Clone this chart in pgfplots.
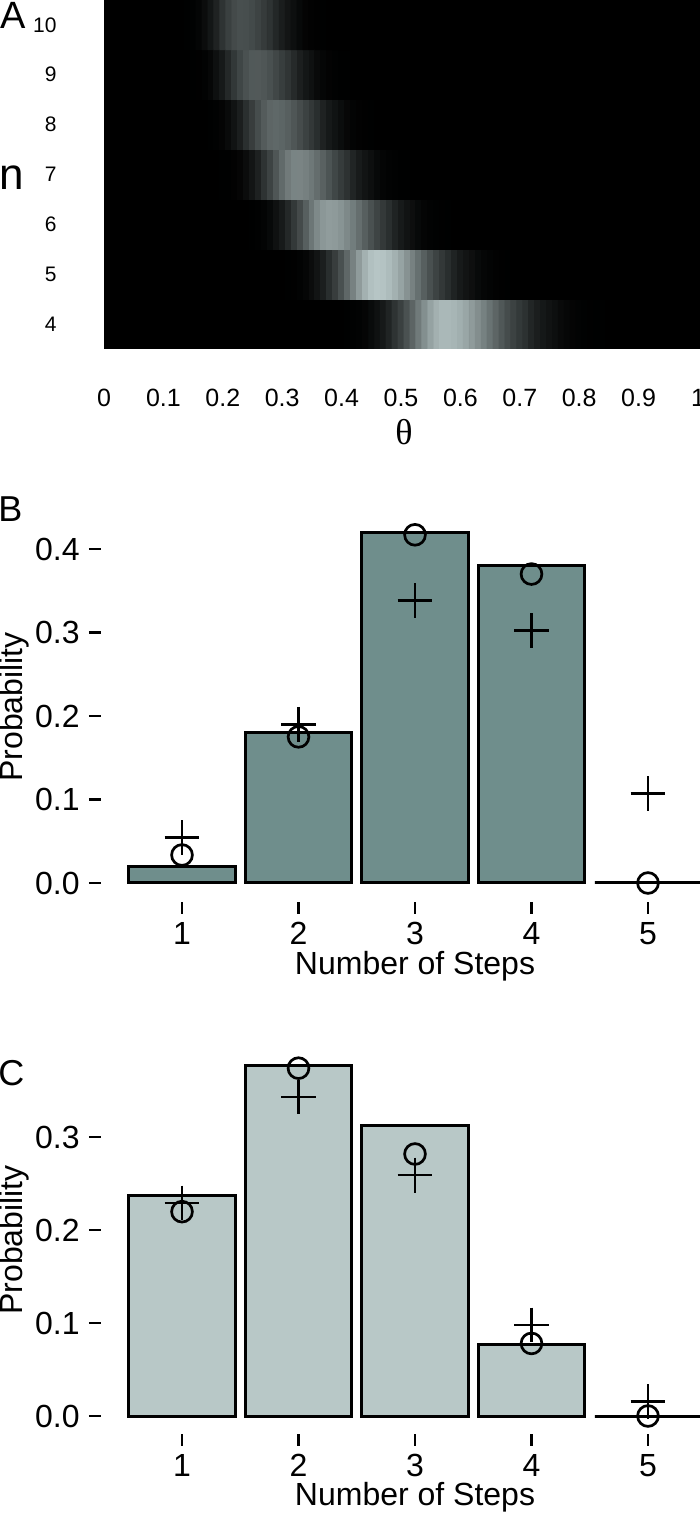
\documentclass[border=0pt]{standalone}
\usepackage{pgfplots}
\pgfplotsset{compat=1.18}
\usepackage{fontspec}
\setmainfont{Liberation Sans}
\newfontfamily\thetafont{Liberation Serif}

\definecolor{barB}{RGB}{111,142,140}
\definecolor{barC}{RGB}{184,200,199}

% 1 px of the reference = 0.5pt
\pgfplotsset{
  steps/.style={
    scale only axis, anchor=south west,
    width=299.5pt,
    xmin=0.3047, xmax=5.4464,
    axis lines*=left, axis line style={draw=none},
    tick align=outside, major tick length=6pt,
    tick style={line width=1.3pt, black},
    xtick={1,2,3,4,5},
    xticklabels={1,2,3,4,5},
    xticklabel style={font=\fontsize{16}{18}\selectfont, inner sep=0pt, anchor=north, yshift=-4pt},
    yticklabel style={font=\fontsize{16}{18}\selectfont, inner sep=0pt, anchor=east, xshift=-4.5pt},
  },
  barstyle/.style={ybar, bar width=0.91, bar shift=0pt, draw=black, line width=1.5pt},
  circ/.style={only marks, mark=o, mark size=5.2pt, line width=1.35pt, black},
  plus/.style={only marks, mark=+, mark size=8.7pt, line width=1.35pt, black},
}

\begin{document}
\begin{tikzpicture}
\useasboundingbox (0,0) rectangle (350pt,759.5pt);
\clip (0,0) rectangle (350pt,759.5pt);

% ---------------- A: heat map ----------------
\begin{axis}[
  at={(52pt,585pt)}, anchor=south west, scale only axis,
  width=298pt, height=174.5pt,
  xmin=0, xmax=1.0034, ymin=3.5, ymax=10.5,
  axis line style={draw=none},
  axis background/.style={fill=black},
  major tick length=0pt,
  xtick={0,0.1,0.2,0.3,0.4,0.5,0.6,0.7,0.8,0.9,1},
  xticklabels={0,0.1,0.2,0.3,0.4,0.5,0.6,0.7,0.8,0.9,1},
  ytick={4,5,6,7,8,9,10},
  yticklabels={4,5,6,7,8,9,10},
  xticklabel style={font=\fontsize{12.5}{14}\selectfont, anchor=center, inner sep=0pt, yshift=-24.5pt},
  yticklabel style={font=\fontsize{10.5}{12}\selectfont, anchor=east, inner sep=0pt, xshift=-23.5pt},
  colormap={heat}{rgb255(0cm)=(0,0,0); rgb255(0.3cm)=(14,16,16); rgb255(1.5cm)=(45,50,50); rgb255(10cm)=(182,197,197)},
  point meta min=0, point meta max=1,
]
\addplot[matrix plot*, point meta=explicit, mesh/cols=75] coordinates {
(0.12,4)[0] (0.13,4)[0] (0.14,4)[0] (0.15,4)[0] (0.16,4)[0] (0.17,4)[0] (0.18,4)[0] (0.19,4)[0] (0.20,4)[0] (0.21,4)[0] (0.22,4)[0] (0.23,4)[0] (0.24,4)[0] (0.25,4)[0] (0.26,4)[0] (0.27,4)[0] (0.28,4)[0] (0.29,4)[0] (0.30,4)[0] (0.31,4)[0] (0.32,4)[0] (0.33,4)[0] (0.34,4)[0] (0.35,4)[0] (0.36,4)[0] (0.37,4)[0] (0.38,4)[0] (0.39,4)[0] (0.40,4)[0]
(0.41,4)[0.001] (0.42,4)[0.003] (0.43,4)[0.005] (0.44,4)[0.010] (0.45,4)[0.020] (0.46,4)[0.035] (0.47,4)[0.061] (0.48,4)[0.100] (0.49,4)[0.156] (0.50,4)[0.232] (0.51,4)[0.329] (0.52,4)[0.442] (0.53,4)[0.564] (0.54,4)[0.686] (0.55,4)[0.795] (0.56,4)[0.880] (0.57,4)[0.924] (0.58,4)[0.927] (0.59,4)[0.909] (0.60,4)[0.872] (0.61,4)[0.820] (0.62,4)[0.756] (0.63,4)[0.683] (0.64,4)[0.604] (0.65,4)[0.524] (0.66,4)[0.445] (0.67,4)[0.370] (0.68,4)[0.302] (0.69,4)[0.241] (0.70,4)[0.189] (0.71,4)[0.145] (0.72,4)[0.109] (0.73,4)[0.080] (0.74,4)[0.058] (0.75,4)[0.041] (0.76,4)[0.028] (0.77,4)[0.019] (0.78,4)[0.013] (0.79,4)[0.008] (0.80,4)[0.005] (0.81,4)[0.003] (0.82,4)[0.002] (0.83,4)[0.001] (0.84,4)[0.001]
(0.85,4)[0] (0.86,4)[0]
(0.12,5)[0] (0.13,5)[0] (0.14,5)[0] (0.15,5)[0] (0.16,5)[0] (0.17,5)[0] (0.18,5)[0] (0.19,5)[0] (0.20,5)[0] (0.21,5)[0] (0.22,5)[0] (0.23,5)[0] (0.24,5)[0] (0.25,5)[0] (0.26,5)[0] (0.27,5)[0] (0.28,5)[0] (0.29,5)[0] (0.30,5)[0]
(0.31,5)[0.001] (0.32,5)[0.002] (0.33,5)[0.005] (0.34,5)[0.011] (0.35,5)[0.023] (0.36,5)[0.044] (0.37,5)[0.080] (0.38,5)[0.135] (0.39,5)[0.216] (0.40,5)[0.325] (0.41,5)[0.458] (0.42,5)[0.607] (0.43,5)[0.755] (0.44,5)[0.882] (0.45,5)[0.969] (0.46,5)[1.000] (0.47,5)[0.986] (0.48,5)[0.946] (0.49,5)[0.882] (0.50,5)[0.801] (0.51,5)[0.707] (0.52,5)[0.607] (0.53,5)[0.506] (0.54,5)[0.411] (0.55,5)[0.325] (0.56,5)[0.249] (0.57,5)[0.186] (0.58,5)[0.135] (0.59,5)[0.096] (0.60,5)[0.066] (0.61,5)[0.044] (0.62,5)[0.029] (0.63,5)[0.018] (0.64,5)[0.011] (0.65,5)[0.007] (0.66,5)[0.004] (0.67,5)[0.002] (0.68,5)[0.001]
(0.69,5)[0] (0.70,5)[0] (0.71,5)[0] (0.72,5)[0] (0.73,5)[0] (0.74,5)[0] (0.75,5)[0] (0.76,5)[0] (0.77,5)[0] (0.78,5)[0] (0.79,5)[0] (0.80,5)[0] (0.81,5)[0] (0.82,5)[0] (0.83,5)[0] (0.84,5)[0] (0.85,5)[0] (0.86,5)[0]
(0.12,6)[0] (0.13,6)[0] (0.14,6)[0] (0.15,6)[0] (0.16,6)[0] (0.17,6)[0] (0.18,6)[0] (0.19,6)[0] (0.20,6)[0] (0.21,6)[0] (0.22,6)[0] (0.23,6)[0] (0.24,6)[0]
(0.25,6)[0.001] (0.26,6)[0.003] (0.27,6)[0.007] (0.28,6)[0.016] (0.29,6)[0.034] (0.30,6)[0.065] (0.31,6)[0.116] (0.32,6)[0.190] (0.33,6)[0.291] (0.34,6)[0.413] (0.35,6)[0.542] (0.36,6)[0.654] (0.37,6)[0.736] (0.38,6)[0.765] (0.39,6)[0.752] (0.40,6)[0.715] (0.41,6)[0.655] (0.42,6)[0.581] (0.43,6)[0.498] (0.44,6)[0.413] (0.45,6)[0.330] (0.46,6)[0.256] (0.47,6)[0.191] (0.48,6)[0.138] (0.49,6)[0.096] (0.50,6)[0.065] (0.51,6)[0.042] (0.52,6)[0.027] (0.53,6)[0.016] (0.54,6)[0.009] (0.55,6)[0.005] (0.56,6)[0.003] (0.57,6)[0.002] (0.58,6)[0.001]
(0.59,6)[0] (0.60,6)[0] (0.61,6)[0] (0.62,6)[0] (0.63,6)[0] (0.64,6)[0] (0.65,6)[0] (0.66,6)[0] (0.67,6)[0] (0.68,6)[0] (0.69,6)[0] (0.70,6)[0] (0.71,6)[0] (0.72,6)[0] (0.73,6)[0] (0.74,6)[0] (0.75,6)[0] (0.76,6)[0] (0.77,6)[0] (0.78,6)[0] (0.79,6)[0] (0.80,6)[0] (0.81,6)[0] (0.82,6)[0] (0.83,6)[0] (0.84,6)[0] (0.85,6)[0] (0.86,6)[0]
(0.12,7)[0] (0.13,7)[0] (0.14,7)[0] (0.15,7)[0] (0.16,7)[0] (0.17,7)[0] (0.18,7)[0] (0.19,7)[0]
(0.20,7)[0.001] (0.21,7)[0.001] (0.22,7)[0.004] (0.23,7)[0.010] (0.24,7)[0.023] (0.25,7)[0.048] (0.26,7)[0.091] (0.27,7)[0.157] (0.28,7)[0.249] (0.29,7)[0.359] (0.30,7)[0.472] (0.31,7)[0.569] (0.32,7)[0.623] (0.33,7)[0.627] (0.34,7)[0.602] (0.35,7)[0.556] (0.36,7)[0.493] (0.37,7)[0.420] (0.38,7)[0.344] (0.39,7)[0.271] (0.40,7)[0.205] (0.41,7)[0.149] (0.42,7)[0.103] (0.43,7)[0.069] (0.44,7)[0.045] (0.45,7)[0.028] (0.46,7)[0.016] (0.47,7)[0.009] (0.48,7)[0.005] (0.49,7)[0.003] (0.50,7)[0.001] (0.51,7)[0.001]
(0.52,7)[0] (0.53,7)[0] (0.54,7)[0] (0.55,7)[0] (0.56,7)[0] (0.57,7)[0] (0.58,7)[0] (0.59,7)[0] (0.60,7)[0] (0.61,7)[0] (0.62,7)[0] (0.63,7)[0] (0.64,7)[0] (0.65,7)[0] (0.66,7)[0] (0.67,7)[0] (0.68,7)[0] (0.69,7)[0] (0.70,7)[0] (0.71,7)[0] (0.72,7)[0] (0.73,7)[0] (0.74,7)[0] (0.75,7)[0] (0.76,7)[0] (0.77,7)[0] (0.78,7)[0] (0.79,7)[0] (0.80,7)[0] (0.81,7)[0] (0.82,7)[0] (0.83,7)[0] (0.84,7)[0] (0.85,7)[0] (0.86,7)[0]
(0.12,8)[0] (0.13,8)[0] (0.14,8)[0] (0.15,8)[0] (0.16,8)[0] (0.17,8)[0]
(0.18,8)[0.001] (0.19,8)[0.003] (0.20,8)[0.008] (0.21,8)[0.019] (0.22,8)[0.042] (0.23,8)[0.080] (0.24,8)[0.138] (0.25,8)[0.216] (0.26,8)[0.307] (0.27,8)[0.389] (0.28,8)[0.445] (0.29,8)[0.460] (0.30,8)[0.444] (0.31,8)[0.410] (0.32,8)[0.361] (0.33,8)[0.303] (0.34,8)[0.243] (0.35,8)[0.185] (0.36,8)[0.135] (0.37,8)[0.094] (0.38,8)[0.062] (0.39,8)[0.039] (0.40,8)[0.024] (0.41,8)[0.014] (0.42,8)[0.007] (0.43,8)[0.004] (0.44,8)[0.002] (0.45,8)[0.001]
(0.46,8)[0] (0.47,8)[0] (0.48,8)[0] (0.49,8)[0] (0.50,8)[0] (0.51,8)[0] (0.52,8)[0] (0.53,8)[0] (0.54,8)[0] (0.55,8)[0] (0.56,8)[0] (0.57,8)[0] (0.58,8)[0] (0.59,8)[0] (0.60,8)[0] (0.61,8)[0] (0.62,8)[0] (0.63,8)[0] (0.64,8)[0] (0.65,8)[0] (0.66,8)[0] (0.67,8)[0] (0.68,8)[0] (0.69,8)[0] (0.70,8)[0] (0.71,8)[0] (0.72,8)[0] (0.73,8)[0] (0.74,8)[0] (0.75,8)[0] (0.76,8)[0] (0.77,8)[0] (0.78,8)[0] (0.79,8)[0] (0.80,8)[0] (0.81,8)[0] (0.82,8)[0] (0.83,8)[0] (0.84,8)[0] (0.85,8)[0] (0.86,8)[0]
(0.12,9)[0] (0.13,9)[0] (0.14,9)[0]
(0.15,9)[0.001] (0.16,9)[0.002] (0.17,9)[0.005] (0.18,9)[0.013] (0.19,9)[0.031] (0.20,9)[0.062] (0.21,9)[0.114] (0.22,9)[0.183] (0.23,9)[0.263] (0.24,9)[0.332] (0.25,9)[0.375] (0.26,9)[0.377] (0.27,9)[0.358] (0.28,9)[0.321] (0.29,9)[0.273] (0.30,9)[0.220] (0.31,9)[0.168] (0.32,9)[0.121] (0.33,9)[0.083] (0.34,9)[0.054] (0.35,9)[0.033] (0.36,9)[0.019] (0.37,9)[0.011] (0.38,9)[0.006] (0.39,9)[0.003] (0.40,9)[0.001] (0.41,9)[0.001]
(0.42,9)[0] (0.43,9)[0] (0.44,9)[0] (0.45,9)[0] (0.46,9)[0] (0.47,9)[0] (0.48,9)[0] (0.49,9)[0] (0.50,9)[0] (0.51,9)[0] (0.52,9)[0] (0.53,9)[0] (0.54,9)[0] (0.55,9)[0] (0.56,9)[0] (0.57,9)[0] (0.58,9)[0] (0.59,9)[0] (0.60,9)[0] (0.61,9)[0] (0.62,9)[0] (0.63,9)[0] (0.64,9)[0] (0.65,9)[0] (0.66,9)[0] (0.67,9)[0] (0.68,9)[0] (0.69,9)[0] (0.70,9)[0] (0.71,9)[0] (0.72,9)[0] (0.73,9)[0] (0.74,9)[0] (0.75,9)[0] (0.76,9)[0] (0.77,9)[0] (0.78,9)[0] (0.79,9)[0] (0.80,9)[0] (0.81,9)[0] (0.82,9)[0] (0.83,9)[0] (0.84,9)[0] (0.85,9)[0] (0.86,9)[0]
(0.12,10)[0] (0.13,10)[0]
(0.14,10)[0.001] (0.15,10)[0.003] (0.16,10)[0.009] (0.17,10)[0.023] (0.18,10)[0.050] (0.19,10)[0.095] (0.20,10)[0.158] (0.21,10)[0.230] (0.22,10)[0.290] (0.23,10)[0.319] (0.24,10)[0.314] (0.25,10)[0.289] (0.26,10)[0.251] (0.27,10)[0.204] (0.28,10)[0.156] (0.29,10)[0.112] (0.30,10)[0.076] (0.31,10)[0.048] (0.32,10)[0.028] (0.33,10)[0.016] (0.34,10)[0.008] (0.35,10)[0.004] (0.36,10)[0.002] (0.37,10)[0.001]
(0.38,10)[0] (0.39,10)[0] (0.40,10)[0] (0.41,10)[0] (0.42,10)[0] (0.43,10)[0] (0.44,10)[0] (0.45,10)[0] (0.46,10)[0] (0.47,10)[0] (0.48,10)[0] (0.49,10)[0] (0.50,10)[0] (0.51,10)[0] (0.52,10)[0] (0.53,10)[0] (0.54,10)[0] (0.55,10)[0] (0.56,10)[0] (0.57,10)[0] (0.58,10)[0] (0.59,10)[0] (0.60,10)[0] (0.61,10)[0] (0.62,10)[0] (0.63,10)[0] (0.64,10)[0] (0.65,10)[0] (0.66,10)[0] (0.67,10)[0] (0.68,10)[0] (0.69,10)[0] (0.70,10)[0] (0.71,10)[0] (0.72,10)[0] (0.73,10)[0] (0.74,10)[0] (0.75,10)[0] (0.76,10)[0] (0.77,10)[0] (0.78,10)[0] (0.79,10)[0] (0.80,10)[0] (0.81,10)[0] (0.82,10)[0] (0.83,10)[0] (0.84,10)[0] (0.85,10)[0] (0.86,10)[0]
};
\end{axis}
\node[font=\fontsize{19}{20}\selectfont, anchor=base west, inner sep=0pt] at (0pt,745pt) {A};
\node[font=\fontsize{22}{24}\selectfont, anchor=base west, inner sep=0pt] at (-0.5pt,664.5pt) {n};
\node[font=\thetafont\fontsize{18}{20}\selectfont, anchor=base, inner sep=0pt] at (202pt,537pt) {θ};

% ---------------- B ----------------
\begin{axis}[steps,
  at={(50.5pt,308.5pt)}, height=193.2pt,
  ymin=-0.02275, ymax=0.44,
  ytick={0,0.1,0.2,0.3,0.4},
  yticklabels={0.0,0.1,0.2,0.3,0.4},
]
\addplot[barstyle, fill=barB] coordinates {(1,0.0195) (2,0.1805) (3,0.420) (4,0.380) (5,0)};
\addplot[circ] coordinates {(1,0.0335) (2,0.175) (3,0.417) (4,0.370) (5,0)};
\addplot[plus] coordinates {(1,0.0543) (2,0.190) (3,0.338) (4,0.302) (5,0.107)};
\end{axis}
\node[font=\fontsize{18}{20}\selectfont, anchor=base west, inner sep=0pt] at (-1pt,498.5pt) {B};
\node[font=\fontsize{16}{18}\selectfont, rotate=90, anchor=base, inner sep=0pt] at (11pt,406pt) {Probability};
\node[font=\fontsize{16}{18}\selectfont, anchor=base, inner sep=0pt] at (207.5pt,272pt) {Number of Steps};

% ---------------- C ----------------
\begin{axis}[steps,
  at={(50.5pt,42.5pt)}, height=190.35pt,
  ymin=-0.01935, ymax=0.39,
  ytick={0,0.1,0.2,0.3},
  yticklabels={0.0,0.1,0.2,0.3},
]
\addplot[barstyle, fill=barC] coordinates {(1,0.2376) (2,0.377) (3,0.312) (4,0.0767) (5,0)};
\addplot[circ] coordinates {(1,0.2197) (2,0.374) (3,0.2817) (4,0.078) (5,0)};
\addplot[plus] coordinates {(1,0.229) (2,0.343) (3,0.259) (4,0.0978) (5,0.0154)};
\end{axis}
\node[font=\fontsize{18}{20}\selectfont, anchor=base west, inner sep=0pt] at (-1pt,216.5pt) {C};
\node[font=\fontsize{16}{18}\selectfont, rotate=90, anchor=base, inner sep=0pt] at (11pt,139.5pt) {Probability};
\node[font=\fontsize{16}{18}\selectfont, anchor=base, inner sep=0pt] at (207.5pt,6.5pt) {Number of Steps};

\end{tikzpicture}
\end{document}
